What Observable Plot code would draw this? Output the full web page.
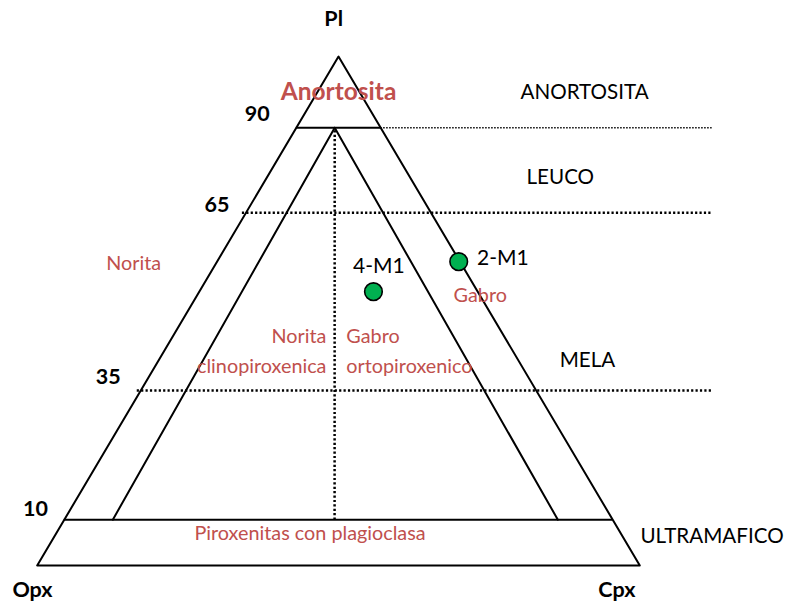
<!DOCTYPE html>
<html><head><meta charset="utf-8">
<script src="https://cdn.jsdelivr.net/npm/d3@7"></script>
<script src="https://cdn.jsdelivr.net/npm/@observablehq/plot@0.6"></script>
<style>html,body{margin:0;padding:0;background:#fff}#chart svg{display:block}</style>
</head><body><div id="chart"></div>
<script>
// Ternary Pl–Opx–Cpx classification (in %)
// Class boundaries: Pl content at which each boundary is drawn, and its label
const plLevels = [9.0, 34.4, 69.3, 86.0];
const plLevelLabels = ["10", "35", "65", "90"];
// Class names on the right and the Pl % at which each sits
const classNames = ["ULTRAMAFICO", "MELA", "LEUCO", "ANORTOSITA"];
const classPl = [4.4, 39.0, 75.0, 91.7];
const classX = [100.1, 86.7, 81.2, 80.2];
// Vertices
const vertexNames = ["Opx", "Cpx", "Pl"];
const vertexPl = [0, 0, 100];
const vertexCpx = [0, 100, 0];
// Inner Opx/Cpx boundaries (Pl, Cpx at both ends) and central split
const innerLeftPl = [9, 86], innerLeftCpx = [8.05, 6.37];
const innerRightPl = [9, 86], innerRightCpx = [81.9, 6.37];
const splitPl = [9, 86], splitCpx = [44.85, 6.37];
const boundaryExtent = 112; // dotted class lines run out to the right
// Samples
const samples = ["4-M1", "2-M1"];
const samplePl = [53.8, 59.7];
const sampleOpx = [17.3, 0.2];
const sampleCpx = [28.9, 40.1];
// Rock-name labels (red)
const rockNames = ["Anortosita", "Norita", "Gabro", "Norita", "clinopiroxenica", "Gabro", "ortopiroxenico", "Piroxenitas con plagioclasa"];
const rockPl = [91.4, 58.1, 51.7, 43.7, 37.8, 43.7, 37.8, 5.05];
const rockX = [50.0, 11.45, 69.1, 48.0, 48.0, 51.3, 51.3, 26.1];

const X = d => d.cpx + d.pl / 2;
const Y = d => d.pl;

const tri = vertexNames.map((n, i) => ({name: n, pl: vertexPl[i], cpx: vertexCpx[i]}));
const triClosed = [...tri, tri[0]];
const seg = (pls, cpxs) => pls.map((p, i) => ({pl: p, cpx: cpxs[i]}));
const innerLeft = seg(innerLeftPl, innerLeftCpx);
const innerRight = seg(innerRightPl, innerRightCpx);
const split = seg(splitPl, splitCpx);
const levels = plLevels.map((p, i) => ({pl: p, label: plLevelLabels[i]}));
const solidLevels = [levels[0], levels[3]];
const dottedLevels = [levels[1], levels[2]];
const sampleData = samples.map((s, i) => ({name: s, pl: samplePl[i], opx: sampleOpx[i], cpx: sampleCpx[i]}));
const rockData = rockNames.map((n, i) => ({name: n, x: rockX[i], y: rockPl[i]}));
const classData = classNames.map((n, i) => ({name: n, x: classX[i], y: classPl[i]}));

// label placement offsets (layout only)
const levelLabelShift = {"10": [-4.8, 0.8], "35": [-5.4, 1.2], "65": [-4.8, 0.1], "90": [-6.5, 1.4]};
const vertexLabelAt = {"Opx": [-0.78, -6.2], "Cpx": [96.2, -6.2], "Pl": [49.2, 105.9]};

const red = "#c0504d";
const chart = Plot.plot({
  width: 787, height: 603,
  marginLeft: 36.7, marginRight: 147.7, marginTop: 56, marginBottom: 38,
  x: {domain: [0, 100], axis: null},
  y: {domain: [0, 100], axis: null},
  style: {fontFamily: "Lato, 'Open Sans', sans-serif", background: "#fff"},
  marks: [
    Plot.line(triClosed, {x: X, y: Y, stroke: "black", strokeWidth: 2}),
    Plot.line(innerLeft, {x: X, y: Y, stroke: "black", strokeWidth: 2}),
    Plot.line(innerRight, {x: X, y: Y, stroke: "black", strokeWidth: 2}),
    Plot.line(split, {x: X, y: Y, stroke: "black", strokeWidth: 2.5, strokeDasharray: "2.2 2.2", strokeLinecap: "butt"}),
    // solid boundaries (10 and 90) across the triangle
    Plot.ruleY(solidLevels, {y: "pl", x1: d => d.pl / 2, x2: d => 100 - d.pl / 2, stroke: "black", strokeWidth: 2}),
    // dotted 90 extension
    Plot.ruleY([levels[3]], {y: "pl", x1: d => 100 - d.pl / 2, x2: boundaryExtent, stroke: "black", strokeWidth: 1.3, strokeDasharray: "1.5 1.5"}),
    // dotted 35 and 65 boundaries
    Plot.ruleY(dottedLevels, {y: "pl", x1: d => d.pl / 2 - 0.6, x2: boundaryExtent, stroke: "black", strokeWidth: 2.5, strokeDasharray: "2.2 2.2"}),
    // level labels
    Plot.text(levels, {x: d => d.pl / 2 + levelLabelShift[d.label][0], y: d => d.pl + levelLabelShift[d.label][1], text: "label", lineAnchor: "bottom", fontSize: 21.5, fontWeight: "bold", fill: "black"}),
    // vertex labels
    Plot.text(tri, {x: d => vertexLabelAt[d.name][0], y: d => vertexLabelAt[d.name][1], text: "name", lineAnchor: "bottom", fontSize: 21.5, fontWeight: "bold", fill: "black"}),
    // class names
    Plot.text(classData, {x: "x", y: "y", text: "name", textAnchor: "start", lineAnchor: "bottom", fontSize: 20.6, fill: "black"}),
    // rock names
    Plot.text(rockData.filter((d, i) => i === 0), {x: "x", y: "y", text: "name", lineAnchor: "bottom", fontSize: 24.5, fontWeight: "bold", fill: red}),
    Plot.text(rockData.filter((d, i) => i === 3 || i === 4), {x: "x", y: "y", text: "name", textAnchor: "end", lineAnchor: "bottom", fontSize: 19.8, fill: red}),
    Plot.text(rockData.filter((d, i) => i !== 0 && i !== 3 && i !== 4), {x: "x", y: "y", text: "name", textAnchor: "start", lineAnchor: "bottom", fontSize: 19.8, fill: red}),
    // samples
    Plot.dot(sampleData, {x: X, y: Y, r: 8.8, fill: "#00b050", stroke: "black", strokeWidth: 1.6}),
    Plot.text(sampleData.filter(d => d.name === "4-M1"), {x: X, y: Y, text: "name", dx: 5.4, dy: -18.6, lineAnchor: "bottom", fontSize: 21, fill: "black"}),
    Plot.text(sampleData.filter(d => d.name === "2-M1"), {x: X, y: Y, text: "name", dx: 18.4, dy: 3.3, textAnchor: "start", lineAnchor: "bottom", fontSize: 21, fill: "black"})
  ]
});
document.getElementById("chart").appendChild(chart);
</script>
</body></html>
